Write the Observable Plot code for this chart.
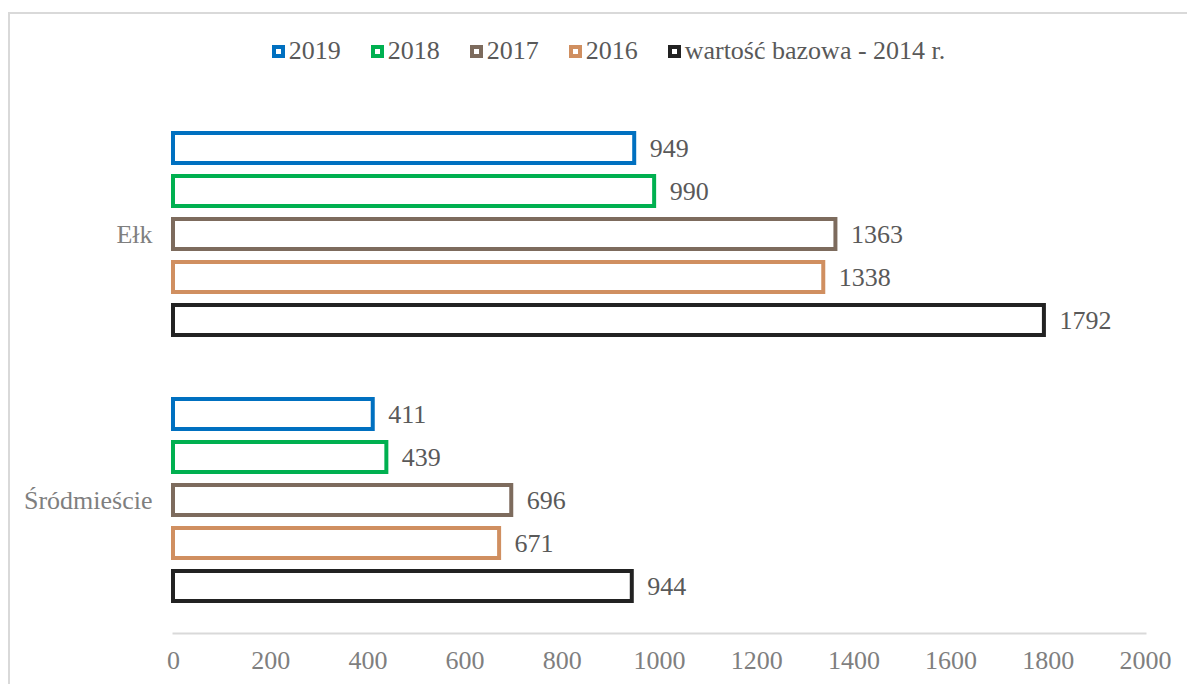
<!DOCTYPE html>
<html>
<head>
<meta charset="utf-8">
<script src="https://cdn.jsdelivr.net/npm/d3@7"></script>
<script src="https://cdn.jsdelivr.net/npm/@observablehq/plot@0.6"></script>
<style>
  html, body { margin: 0; padding: 0; background: #fff; overflow: hidden; }
  body { width: 1187px; height: 684px; position: relative; font-family: "Liberation Serif", serif; }
  #border { position: absolute; left: 8px; top: 12px; width: 1300px; height: 800px;
            border-left: 2px solid #d9d9d9; border-top: 2px solid #d9d9d9; box-sizing: border-box; }
  #legend { position: relative; height: 80px; box-sizing: border-box; padding-top: 22px; padding-left: 30px;
            display: flex; justify-content: center; align-items: center; font-size: 26px; color: #595959; line-height: 28px; }
  .item { display: flex; align-items: center; margin-right: 30px; }
  .item:last-child { margin-right: 0; }
  .swatch { width: 13px; height: 13px; border: 4px solid; box-sizing: border-box; background: #fff; margin-right: 4px; }
  #chart { position: relative; }
</style>
</head>
<body>
<div id="border"></div>
<div id="legend"></div>
<div id="chart"></div>
<script>
const categories = ["Ełk", "Śródmieście"];
const series = ["2019", "2018", "2017", "2016", "wartość bazowa - 2014 r."];
const colors = ["#0070C0", "#00B050", "#7D6B5D", "#D08F60", "#222222"];
const valuesElk = [949, 990, 1363, 1338, 1792];
const valuesSrodmiescie = [411, 439, 696, 671, 944];
const xTicks = [0, 200, 400, 600, 800, 1000, 1200, 1400, 1600, 1800, 2000];

const data = [];
series.forEach((s, i) => data.push({category: categories[0], series: s, value: valuesElk[i]}));
series.forEach((s, i) => data.push({category: categories[1], series: s, value: valuesSrodmiescie[i]}));

// legend
const legend = document.getElementById("legend");
series.forEach((s, i) => {
  const it = document.createElement("div");
  it.className = "item";
  const sw = document.createElement("span");
  sw.className = "swatch";
  sw.style.borderColor = colors[i];
  const tx = document.createElement("span");
  tx.textContent = s;
  it.appendChild(sw); it.appendChild(tx);
  legend.appendChild(it);
});

const font = "Liberation Serif";
const chart = Plot.plot({
  width: 1187,
  height: 604,
  marginLeft: 173,
  marginRight: 42,
  marginTop: 21,
  marginBottom: 51,
  style: {fontFamily: font, fontSize: "26px", background: "transparent", overflow: "visible"},
  x: {domain: [0, 2000], label: null},
  y: {domain: series, paddingInner: 0.302, paddingOuter: 0.744, axis: null, label: null},
  fy: {domain: categories, padding: 0, label: null},
  color: {domain: series, range: colors},
  marks: [
    Plot.frame({anchor: "bottom", facet: "super", stroke: "#d9d9d9", strokeWidth: 2}),
    Plot.barX(data, {x: "value", y: "series", fy: "category", fill: "#fff", stroke: "series", strokeWidth: 4}),
    Plot.text(data, {x: "value", y: "series", fy: "category", text: d => String(d.value), textAnchor: "start", dx: 15, fill: "#595959", fontSize: 26}),
    Plot.axisX({anchor: "bottom", ticks: xTicks, tickSize: 0, tickPadding: 17, tickFormat: d => String(d),
      fill: "#7f7f7f", fontSize: 26, label: null}),
    Plot.axisFy({anchor: "left", tickSize: 0, tickPadding: 21, fill: "#7f7f7f", fontSize: 26, label: null})
  ]
});
document.getElementById("chart").appendChild(chart);
</script>
</body>
</html>
